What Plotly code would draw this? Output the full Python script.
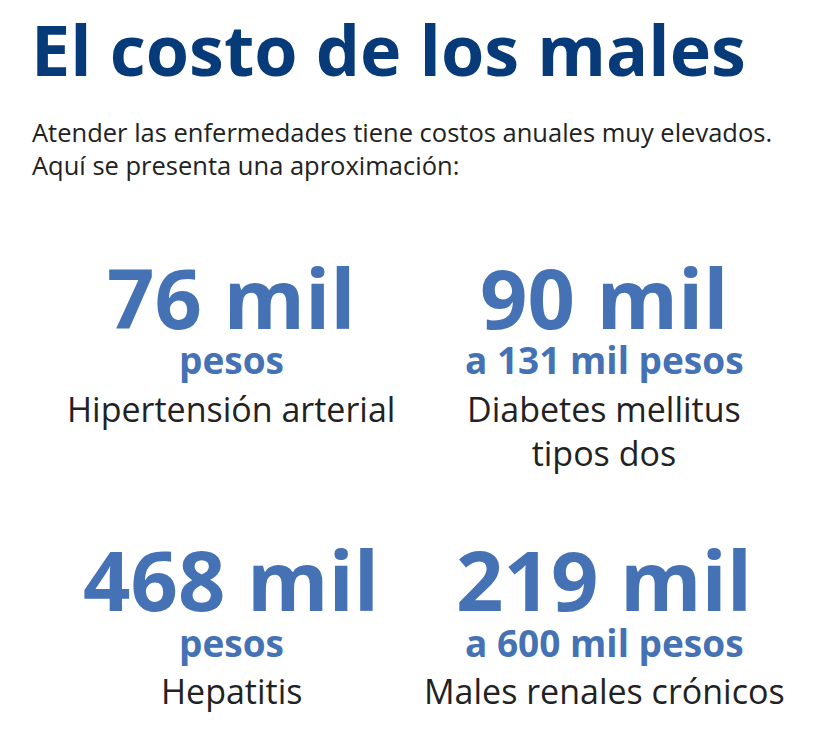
import plotly.graph_objects as go

W, H = 824, 743

title = "El costo de los males"
subtitle = ["Atender las enfermedades tiene costos anuales muy elevados.",
            "Aquí se presenta una aproximación:"]

amounts = ["76 mil", "90 mil", "468 mil", "219 mil"]
units = ["pesos", "a 131 mil pesos", "pesos", "a 600 mil pesos"]
diseases = ["Hipertensión arterial", "Diabetes mellitus<br>tipos dos",
            "Hepatitis", "Males renales crónicos"]

col_x = [223, 596]
row_y = [288, 570]

fig = go.Figure()
anns = []


def add(text, px, py, size, color, bold=False, xanchor="center", yanchor="middle"):
    anns.append(dict(
        text=f"<b>{text}</b>" if bold else text,
        x=px / W, y=1 - py / H, xref="paper", yref="paper",
        xanchor=xanchor, yanchor=yanchor, showarrow=False,
        font=dict(family="Open Sans", size=size, color=color),
    ))


add(title, 21, 41, 70, "#073a78", bold=True, xanchor="left")
add(subtitle[0], 22, 124, 25.5, "#222222", xanchor="left")
add(subtitle[1], 22, 157, 25.5, "#222222", xanchor="left")

for i, (a, u, d) in enumerate(zip(amounts, units, diseases)):
    cx = col_x[i % 2]
    cy = row_y[i // 2]
    add(a, cx, cy, 83, "#4571b5", bold=True)
    add(u, cx, cy + 64, 37, "#4571b5", bold=True)
    add(d, cx, cy + 88, 34, "#222222", yanchor="top")

fig.update_layout(
    width=W, height=H, margin=dict(l=0, r=0, t=0, b=0),
    paper_bgcolor="white", plot_bgcolor="white",
    xaxis=dict(visible=False), yaxis=dict(visible=False),
    annotations=anns,
)
fig.write_html("out.html")
